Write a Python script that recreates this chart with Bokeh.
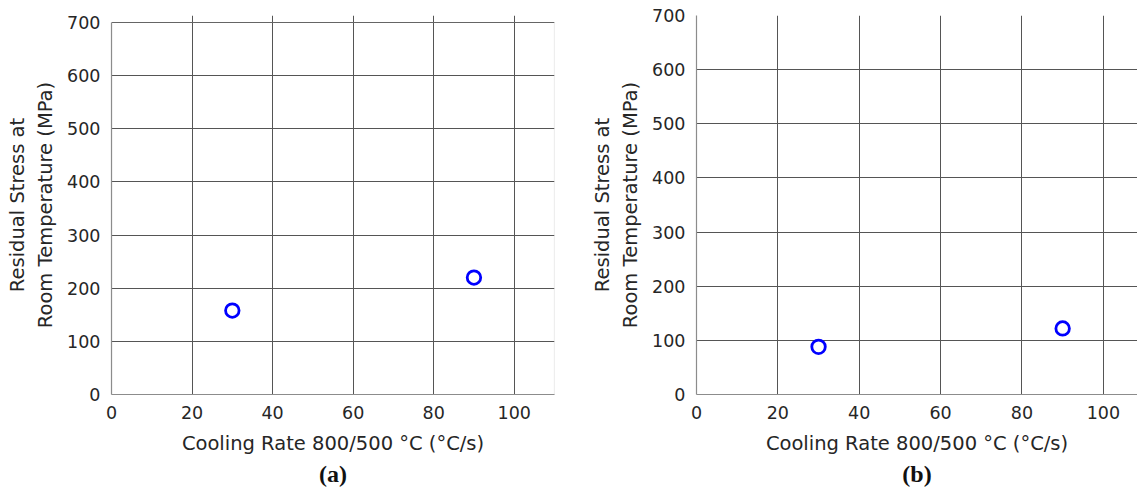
from bokeh.plotting import figure
from bokeh.layouts import row
from bokeh.models import Range1d, FixedTicker, Title, BoxAnnotation
from bokeh.embed import file_html
from bokeh.resources import INLINE

# Cooling rate (°C/s) and residual stress at room temperature (MPa)
rate_a = [30, 90]
stress_a = [158, 220]
rate_b = [30, 90]
stress_b = [88, 122]

x_ticks = [0, 20, 40, 60, 80, 100]
y_ticks = [0, 100, 200, 300, 400, 500, 600, 700]

X_LABEL = "Cooling Rate 800/500 °C (°C/s)"
Y_LABEL = "Residual Stress at\nRoom Temperature (MPa)"
FONT = "DejaVu Sans"
SPINE = "#8c8c8c"


def panel(xs, ys, tag, width, x_end, y_end, left, right, box_right):
    p = figure(width=width, height=488, output_backend="svg", toolbar_location=None,
               title=None,
               x_range=Range1d(0, x_end), y_range=Range1d(0, y_end),
               min_border_left=left, min_border_right=right,
               min_border_top=15, min_border_bottom=10)
    p.background_fill_color = "white"
    p.border_fill_color = "white"
    p.outline_line_color = None

    for ax in (p.xaxis, p.yaxis):
        ax.major_tick_line_color = None
        ax.minor_tick_line_color = None
        ax.axis_line_color = SPINE
        ax.axis_line_width = 1.2
        ax.major_label_text_font = FONT
        ax.major_label_text_font_size = "17.5px"
        ax.major_label_text_color = "#262626"
        ax.axis_label_text_font = FONT
        ax.axis_label_text_font_size = "19.5px"
        ax.axis_label_text_font_style = "normal"
        ax.axis_label_text_color = "#262626"
    p.xaxis.ticker = FixedTicker(ticks=x_ticks)
    p.yaxis.ticker = FixedTicker(ticks=y_ticks)
    p.yaxis.bounds = (0, 700)
    p.xaxis.axis_label = X_LABEL
    p.yaxis.axis_label = Y_LABEL
    p.xaxis.major_label_standoff = 5
    p.yaxis.major_label_standoff = 5
    p.xaxis.axis_label_standoff = 10
    p.yaxis.axis_label_standoff = 7
    p.yaxis.axis_label_text_align = "center"

    for g in (p.xgrid, p.ygrid):
        g.grid_line_color = "#555555"
        g.grid_line_width = 1
        g.grid_line_alpha = 1
    p.xgrid.bounds = (0, 700)

    # axes box: top and right spines
    if box_right:
        p.add_layout(BoxAnnotation(left=0, right=x_end, bottom=0, top=700,
                                   fill_color=None, line_color=SPINE, line_width=1.2))

    p.scatter(xs, ys, marker="circle", size=13.5, fill_color=None,
              line_color="#0000ff", line_width=2.8)

    p.add_layout(Title(text=tag, align="center", text_font="Liberation Serif",
                       text_font_size="24px", text_font_style="bold",
                       text_color="#111111", standoff=3), "below")
    return p


left_panel = panel(rate_a, stress_a, "(a)", 580, 110, 713.2, 111, 26, True)
right_panel = panel(rate_b, stress_b, "(b)", 557, 108.4, 700, 116, 0, False)

layout = row(left_panel, right_panel, spacing=0)
open("out.html", "w").write(file_html(layout, INLINE))
